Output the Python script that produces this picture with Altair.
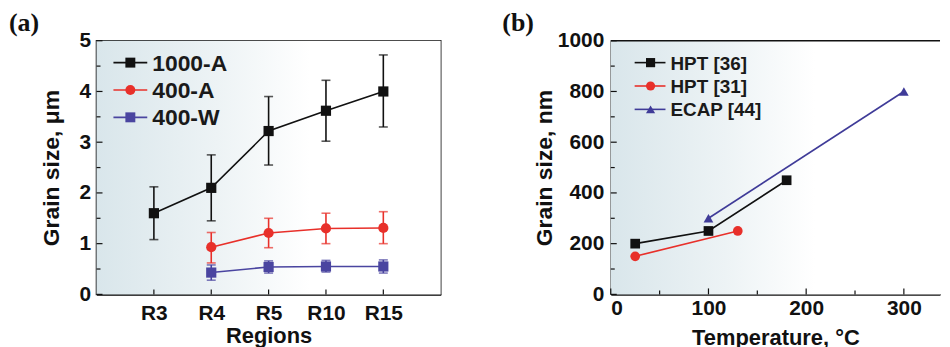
import altair as alt
import pandas as pd

# ---------------- data: panel (a) ----------------
regions = ["R3", "R4", "R5", "R10", "R15"]
series_a = ["1000-A", "400-A", "400-W"]
colors_a = ["#111111", "#e8302a", "#4a45a0"]
shapes_a = ["square", "circle", "square"]

a1000_regions = ["R3", "R4", "R5", "R10", "R15"]
a1000_mean = [1.60, 2.10, 3.22, 3.62, 4.00]
a1000_lo = [1.08, 1.45, 2.55, 3.02, 3.30]
a1000_hi = [2.12, 2.75, 3.90, 4.22, 4.72]

a400A_regions = ["R4", "R5", "R10", "R15"]
a400A_mean = [0.93, 1.21, 1.30, 1.31]
a400A_lo = [0.62, 0.92, 1.00, 1.00]
a400A_hi = [1.22, 1.50, 1.60, 1.63]

a400W_regions = ["R4", "R5", "R10", "R15"]
a400W_mean = [0.43, 0.54, 0.55, 0.55]
a400W_lo = [0.28, 0.42, 0.44, 0.42]
a400W_hi = [0.58, 0.66, 0.67, 0.68]

y_major_a = [0, 1, 2, 3, 4, 5]
y_minor_a = [0.5, 1.5, 2.5, 3.5, 4.5]

# ---------------- data: panel (b) ----------------
series_b = ["HPT [36]", "HPT [31]", "ECAP [44]"]
colors_b = ["#111111", "#e8302a", "#3f3b98"]
shapes_b = ["square", "circle", "triangle-up"]

b36_temp = [25, 100, 180]
b36_size = [200, 250, 450]
b31_temp = [25, 130]
b31_size = [150, 250]
b44_temp = [100, 300]
b44_size = [300, 800]

x_major_b = [0, 100, 200, 300]
x_minor_b = [50, 150, 250]
y_major_b = [0, 200, 400, 600, 800, 1000]
y_minor_b = [100, 300, 500, 700, 900]

panel_labels = ["(a)", "(b)"]

FONT = "Liberation Sans"
WA, HA = 346, 255
WB, HB = 331, 255
LBL = 21      # tick label size
XT = 22       # x title size
YT = 23       # y title size


def grad():
    return alt.LinearGradient(
        gradient="linear",
        stops=[alt.GradientStop(color="#d9e6eb", offset=0),
               alt.GradientStop(color="#edf3f5", offset=0.35),
               alt.GradientStop(color="#ffffff", offset=0.62)],
        x1=0, x2=1, y1=0, y2=0)


one = pd.DataFrame({"z": [0]})

# ---------------- panel (a) ----------------
rows = []
for s, rg, m, lo, hi in [
    (series_a[0], a1000_regions, a1000_mean, a1000_lo, a1000_hi),
    (series_a[1], a400A_regions, a400A_mean, a400A_lo, a400A_hi),
    (series_a[2], a400W_regions, a400W_mean, a400W_lo, a400W_hi),
]:
    for r, mm, l, h in zip(rg, m, lo, hi):
        rows.append({"series": s, "region": r, "mean": mm, "lo": l, "hi": h})
df_a = pd.DataFrame(rows)

sx_a = alt.Scale(type="point", domain=regions, padding=1)
sy_a = alt.Scale(domain=[0, 5], nice=False)
ax_xa = alt.Axis(title="Regions", labelAngle=0, labelPadding=8, titlePadding=2,
                 titleFontSize=XT)
ax_ya = alt.Axis(title="Grain size, μm", values=y_major_a, format="d", labelPadding=6,
                 titlePadding=16, titleFontSize=YT)


def XA(f):
    return alt.X(f, type="nominal", scale=sx_a, axis=ax_xa)


def YA(f):
    return alt.Y(f, type="quantitative", scale=sy_a, axis=ax_ya)


col_a = alt.Color("series:N", scale=alt.Scale(domain=series_a, range=colors_a), legend=None)
shp_a = alt.Shape("series:N", scale=alt.Scale(domain=series_a, range=shapes_a), legend=None)

bg_a = alt.Chart(one).mark_rect(fill=grad()).encode(
    x=alt.value(0), x2=alt.value(WA), y=alt.value(0), y2=alt.value(HA))

lines_a = alt.Chart(df_a).mark_line(strokeWidth=1.6).encode(x=XA("region"), y=YA("mean"), color=col_a)
err_a = alt.Chart(df_a).mark_rule(strokeWidth=1.6).encode(
    x=XA("region"), y=YA("lo"), y2="hi:Q", color=col_a)
cap_lo = alt.Chart(df_a).mark_tick(orient="horizontal", size=9, thickness=1.6).encode(
    x=XA("region"), y=YA("lo"), color=col_a)
cap_hi = alt.Chart(df_a).mark_tick(orient="horizontal", size=9, thickness=1.6).encode(
    x=XA("region"), y=YA("hi"), color=col_a)
pts_a = alt.Chart(df_a).mark_point(filled=True, opacity=1, size=105).encode(
    x=XA("region"), y=YA("mean"), color=col_a, shape=shp_a)

tk_a_major = alt.Chart(pd.DataFrame({"v": y_major_a})).mark_rule(color="#111", strokeWidth=1.2).encode(
    y=YA("v"), x=alt.value(0), x2=alt.value(6))
tk_a_minor = alt.Chart(pd.DataFrame({"v": y_minor_a})).mark_rule(color="#111", strokeWidth=1.2).encode(
    y=YA("v"), x=alt.value(0), x2=alt.value(4))
tk_a_x = alt.Chart(pd.DataFrame({"region": regions})).mark_rule(color="#111", strokeWidth=1.2).encode(
    x=XA("region"), y=alt.value(HA), y2=alt.value(HA - 5))

leg_a = []
for i, (s, c, sh) in enumerate(zip(series_a, colors_a, shapes_a)):
    d = pd.DataFrame({"series": [s]})
    yy = 22 + 27.5 * i
    leg_a.append(alt.Chart(d).mark_rule(color=c, strokeWidth=1.6).encode(
        x=alt.value(17), x2=alt.value(51), y=alt.value(yy)))
    leg_a.append(alt.Chart(d).mark_point(filled=True, opacity=1, size=100, shape=sh, color=c).encode(
        x=alt.value(34), y=alt.value(yy)))
    leg_a.append(alt.Chart(d).mark_text(align="left", baseline="middle", font=FONT, fontSize=23,
                                        fontWeight="bold", color="#1a1a1a").encode(
        x=alt.value(56), y=alt.value(yy + 1), text="series:N"))

lab_a = alt.Chart(pd.DataFrame({"t": [panel_labels[0]]})).mark_text(
    align="left", baseline="alphabetic", font="Liberation Serif", fontSize=26,
    fontWeight="bold", color="#111").encode(x=alt.value(-88), y=alt.value(-10), text="t:N")

panel_a = alt.layer(bg_a, tk_a_major, tk_a_minor, tk_a_x, lines_a, err_a, cap_lo, cap_hi, pts_a,
                    *leg_a, lab_a).properties(width=WA, height=HA)

# ---------------- panel (b) ----------------
rows = []
for s, t, g in [(series_b[0], b36_temp, b36_size), (series_b[1], b31_temp, b31_size),
                (series_b[2], b44_temp, b44_size)]:
    for tt, gg in zip(t, g):
        rows.append({"series": s, "temp": tt, "size": gg})
df_b = pd.DataFrame(rows)

sx_b = alt.Scale(domain=[0, 337], nice=False)
sy_b = alt.Scale(domain=[0, 1000], nice=False)
ax_xb = alt.Axis(title="Temperature, °C", values=x_major_b, format="d", labelPadding=3,
                 titlePadding=9, titleFontSize=XT)
ax_yb = alt.Axis(title="Grain size, nm", values=y_major_b, format="d", labelPadding=7,
                 titlePadding=1, titleFontSize=YT)


def XB(f):
    return alt.X(f, type="quantitative", scale=sx_b, axis=ax_xb)


def YB(f):
    return alt.Y(f, type="quantitative", scale=sy_b, axis=ax_yb)


col_b = alt.Color("series:N", scale=alt.Scale(domain=series_b, range=colors_b), legend=None)
shp_b = alt.Shape("series:N", scale=alt.Scale(domain=series_b, range=shapes_b), legend=None)

bg_b = alt.Chart(one).mark_rect(fill=grad()).encode(
    x=alt.value(0), x2=alt.value(WB), y=alt.value(0), y2=alt.value(HB))
top_b = alt.Chart(one).mark_rule(color="#111", strokeWidth=1.6).encode(
    x=alt.value(0), x2=alt.value(WB), y=alt.value(0))
lines_b = alt.Chart(df_b).mark_line(strokeWidth=1.6).encode(x=XB("temp"), y=YB("size"), color=col_b)
pts_b = alt.Chart(df_b).mark_point(filled=True, opacity=1, size=95).encode(
    x=XB("temp"), y=YB("size"), color=col_b, shape=shp_b)

tk_b_ymaj = alt.Chart(pd.DataFrame({"v": y_major_b})).mark_rule(color="#111", strokeWidth=1.2).encode(
    y=YB("v"), x=alt.value(0), x2=alt.value(6))
tk_b_ymin = alt.Chart(pd.DataFrame({"v": y_minor_b})).mark_rule(color="#111", strokeWidth=1.2).encode(
    y=YB("v"), x=alt.value(0), x2=alt.value(4))
tk_b_xmaj = alt.Chart(pd.DataFrame({"v": x_major_b})).mark_rule(color="#111", strokeWidth=1.2).encode(
    x=XB("v"), y=alt.value(HB), y2=alt.value(HB - 6))
tk_b_xmin = alt.Chart(pd.DataFrame({"v": x_minor_b})).mark_rule(color="#111", strokeWidth=1.2).encode(
    x=XB("v"), y=alt.value(HB), y2=alt.value(HB - 4))

leg_b = []
for i, (s, c, sh) in enumerate(zip(series_b, colors_b, shapes_b)):
    d = pd.DataFrame({"series": [s]})
    yy = 22 + 23.5 * i
    leg_b.append(alt.Chart(d).mark_rule(color=c, strokeWidth=1.6).encode(
        x=alt.value(24), x2=alt.value(55), y=alt.value(yy)))
    leg_b.append(alt.Chart(d).mark_point(filled=True, opacity=1, size=85, shape=sh, color=c).encode(
        x=alt.value(40), y=alt.value(yy)))
    leg_b.append(alt.Chart(d).mark_text(align="left", baseline="middle", font=FONT, fontSize=19,
                                        fontWeight="bold", color="#1a1a1a").encode(
        x=alt.value(60), y=alt.value(yy + 1), text="series:N"))

lab_b = alt.Chart(pd.DataFrame({"t": [panel_labels[1]]})).mark_text(
    align="left", baseline="alphabetic", font="Liberation Serif", fontSize=26,
    fontWeight="bold", color="#111").encode(x=alt.value(-109), y=alt.value(-10), text="t:N")

panel_b = alt.layer(bg_b, top_b, tk_b_ymaj, tk_b_ymin, tk_b_xmaj, tk_b_xmin, lines_b, pts_b,
                    *leg_b, lab_b).properties(
    width=WB, height=HB, view=alt.ViewBackground(stroke="transparent"))

chart = alt.hconcat(panel_a, panel_b, spacing=60).resolve_scale(
    color="independent", shape="independent", x="independent", y="independent"
).properties(
    padding={"left": 0, "top": 0, "right": 0, "bottom": 0}
).configure_view(
    stroke="#111", strokeWidth=1.6
).configure_axis(
    grid=False, ticks=False, domainColor="#111", domainWidth=1.6,
    labelFont=FONT, labelFontSize=LBL, labelFontWeight="bold", labelColor="#111",
    titleFont=FONT, titleFontWeight="bold", titleColor="#111"
)

chart.save("out.html", embed_options={"renderer": "svg", "actions": False})
